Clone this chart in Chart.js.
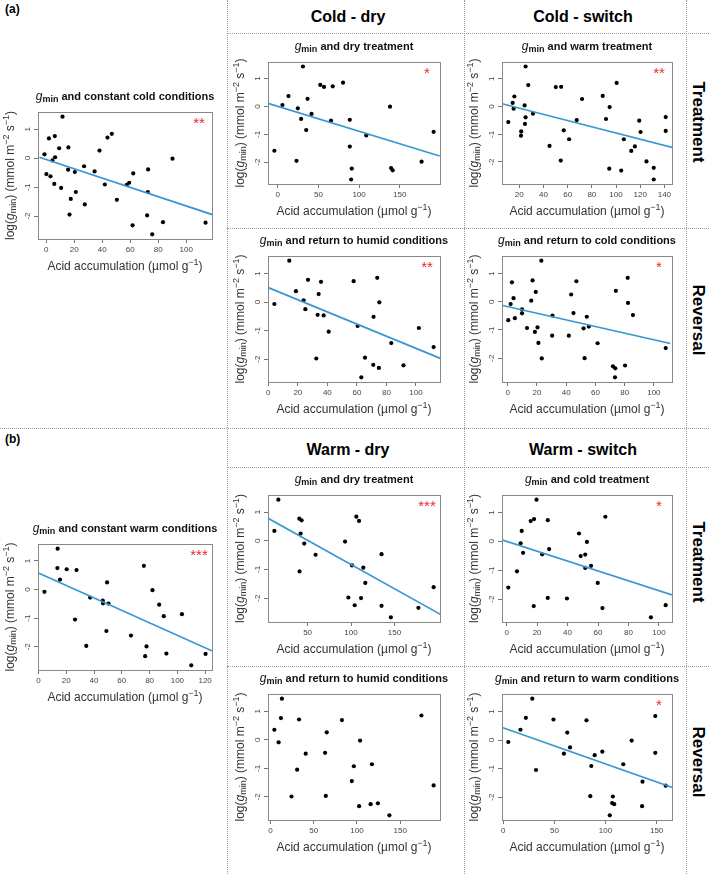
<!DOCTYPE html>
<html>
<head>
<meta charset="utf-8">
<script src="https://cdn.jsdelivr.net/npm/chart.js@4.4.1/dist/chart.umd.min.js"></script>
<style>
  body { margin: 0; background: #fff; font-family: "Liberation Sans", Arial, sans-serif; }
  #page { position: relative; width: 709px; height: 874px; overflow: hidden; }
  .vl { position: absolute; width: 0; border-left: 1px dotted #999; }
  .hl { position: absolute; height: 0; border-top: 1px dotted #999; }
  .hd { position: absolute; font-weight: bold; font-size: 16px; transform: translate(-50%, -50%); white-space: nowrap; }
  .tag { position: absolute; font-weight: bold; font-size: 12px; }
  .side { position: absolute; font-weight: bold; font-size: 17px; transform: translate(-50%, -50%) rotate(90deg); white-space: nowrap; }
  canvas { position: absolute; }
</style>
</head>
<body>
<div id="page">
  <div class="vl" style="left:227px;top:0;height:874px"></div>
  <div class="vl" style="left:464px;top:0;height:874px"></div>
  <div class="vl" style="left:686px;top:0;height:874px"></div>
  <div class="hl" style="left:227px;top:33px;width:482px"></div>
  <div class="hl" style="left:227px;top:228px;width:482px"></div>
  <div class="hl" style="left:0;top:428px;width:709px"></div>
  <div class="hl" style="left:227px;top:467px;width:482px"></div>
  <div class="hl" style="left:227px;top:666px;width:482px"></div>

  <div class="tag" style="left:5px;top:2px">(a)</div>
  <div class="tag" style="left:5px;top:432px">(b)</div>
  <div class="hd" style="left:348px;top:17px">Cold - dry</div>
  <div class="hd" style="left:583px;top:17px">Cold - switch</div>
  <div class="hd" style="left:348px;top:450px">Warm - dry</div>
  <div class="hd" style="left:583px;top:450px">Warm - switch</div>
  <div class="side" style="left:698px;top:122px">Treatment</div>
  <div class="side" style="left:698px;top:320px">Reversal</div>
  <div class="side" style="left:698px;top:562px">Treatment</div>
  <div class="side" style="left:698px;top:762px">Reversal</div>
</div>
<script>
// ---- data (acid accumulation, log gmin) ----
const yTicks = [-2, -1, 0, 1];

const coldConstX = [-1.2, 2.0, 6.2, 11.7, 9.3, 15.9, 6.4, 4.5, 0.2, 3.1, 5.8, 10.7, 15.7, 20.5, 17.6, 21.2, 16.7, 27.6, 27.1, 34.6, 38.1, 43.8, 46.9, 41.9, 50.5, 57.6, 59.3, 62.2, 61.7, 72.8, 72.6, 72.1, 75.7, 83.4, 90.2, 113.8];
const coldConstY = [0.13, 0.68, 0.76, 1.43, 0.34, 0.37, 0.03, -0.08, -0.55, -0.63, -0.89, -1.03, -0.40, -0.48, -1.41, -1.17, -1.95, -1.60, -0.28, -0.46, 0.26, 0.71, 0.84, -0.91, -1.44, -0.92, -0.85, -0.53, -2.32, -0.39, -1.17, -1.98, -2.63, -2.21, -0.02, -2.23];
const coldConstTicks = [0, 20, 40, 60, 80, 100];
const coldConstFitX = [-4.8, 118.6], coldConstFitY = [0.03, -1.95];

const coldDryTreatX = [-4.1, 5.8, 13.2, 24.7, 23.1, 31.0, 36.7, 28.8, 35.0, 41.6, 52.3, 56.9, 67.6, 65.5, 80.3, 88.6, 88.6, 91.0, 90.2, 108.8, 138.0, 139.3, 141.3, 176.8, 191.6];
const coldDryTreatY = [-1.59, 0.05, 0.37, -0.07, -1.95, 1.43, 0.27, -0.45, -0.85, -0.27, 0.77, 0.70, 0.72, -0.51, 0.85, -0.48, -1.44, -2.23, -2.62, -1.04, -0.01, -2.21, -2.29, -1.98, -0.91];
const coldDryTreatTicks = [0, 50, 100, 150];
const coldDryTreatFitX = [-11.9, 199], coldDryTreatFitY = [0.11, -1.78];

const coldSwitchTreatX = [10.9, 14.5, 15.9, 15.3, 25.2, 27.4, 24.4, 25.2, 24.7, 21.6, 21.4, 31.3, 45.0, 50.2, 54.6, 54.3, 56.8, 61.2, 67.5, 71.9, 89.0, 91.7, 94.7, 94.4, 100.5, 104.3, 106.5, 112.6, 115.6, 119.2, 120.3, 125.2, 131.2, 131.2, 141.1, 141.1];
const coldSwitchTreatY = [-0.56, 0.13, 0.36, -0.08, 1.44, 0.77, 0.04, -0.39, -0.63, -0.90, -1.05, -0.26, -1.42, 0.70, 0.71, -1.95, -0.86, -1.18, -0.49, 0.27, 0.38, -0.45, -0.02, -2.24, 0.85, -2.31, -1.18, -1.60, -1.44, -0.51, -0.92, -1.98, -2.21, -2.63, -0.38, -0.88];
const coldSwitchTreatTicks = [20, 40, 60, 80, 100, 120, 140];
const coldSwitchTreatFitX = [5.7, 146.6], coldSwitchTreatFitY = [0.10, -1.48];

const coldDryRevX = [4.1, 14.2, 18.7, 26.9, 23.9, 25.1, 35.7, 34.1, 33.4, 37.5, 40.9, 32.5, 57.8, 60.5, 65.5, 63.0, 73.8, 75.2, 71.3, 71.1, 74.9, 83.3, 91.6, 102.0, 112.0];
const coldDryRevY = [-0.07, 1.45, 0.38, 0.78, 0.06, -0.25, 0.71, 0.28, -0.45, -0.47, -1.04, -1.98, 0.73, -0.84, -1.95, -2.64, 0.85, -0.01, -0.52, -2.20, -2.31, -1.44, -2.22, -0.91, -1.58];
const coldDryRevTicks = [0, 20, 40, 60, 80, 100];
const coldDryRevFitX = [-0.7, 116.7], coldDryRevFitY = [0.52, -1.98];

const coldSwitchRevX = [0.4, 2.0, 2.9, 4.0, 4.9, 9.8, 9.8, 13.2, 16.1, 17.0, 19.2, 18.6, 20.4, 21.0, 23.3, 23.0, 30.6, 30.4, 41.8, 43.4, 45.0, 47.0, 51.9, 52.6, 54.1, 55.5, 61.5, 72.0, 73.6, 73.4, 74.0, 80.3, 82.1, 82.3, 85.7, 108.1];
const coldSwitchRevY = [-0.65, -0.08, 0.69, 0.13, -0.58, -0.27, -0.41, -0.93, 0.04, 0.76, 0.35, -1.07, -0.91, -1.46, -2.01, 1.46, -0.49, -1.20, -1.20, 0.26, -0.40, 0.73, -0.94, -2.00, -0.53, -0.88, -1.47, -2.29, -2.36, -2.68, 0.39, -2.26, 0.85, -0.04, -0.47, -1.64];
const coldSwitchRevTicks = [0, 20, 40, 60, 80, 100];
const coldSwitchRevFitX = [-3.4, 111.2], coldSwitchRevFitY = [-0.13, -1.48];

const warmConstX = [4.3, 13.8, 13.6, 15.5, 20.3, 27.4, 26.3, 34.4, 37.2, 46.3, 46.5, 49.4, 50.4, 48.9, 66.6, 75.9, 76.8, 77.8, 82.1, 86.9, 90.2, 92.1, 103.3, 110.0, 120.3];
const warmConstY = [-0.08, 1.43, 0.75, 0.35, 0.71, 0.68, -1.05, -1.97, -0.28, -0.39, -0.48, 0.25, -0.49, -1.45, -1.61, 0.83, -2.33, -1.99, -0.02, -0.53, -0.93, -2.24, -0.86, -2.65, -2.25];
const warmConstTicks = [0, 20, 40, 60, 80, 100, 120];
const warmConstFitX = [0, 124.8], warmConstFitY = [0.58, -2.14];

const warmDryTreatX = [16.4, 11.8, 40.5, 43.1, 42.0, 46.2, 59.2, 40.8, 93.1, 101.1, 106.1, 109.2, 114.1, 116.4, 96.9, 104.2, 111.5, 135.1, 135.1, 145.8, 177.5, 195.0];
const warmDryTreatY = [1.43, 0.34, 0.77, 0.71, 0.25, -0.10, -0.49, -1.07, -0.03, -0.86, 0.84, 0.69, -0.94, -1.47, -1.98, -2.25, -2.00, -0.47, -2.27, -2.67, -2.34, -1.62];
const warmDryTreatTicks = [50, 100, 150];
const warmDryTreatFitX = [4.6, 203], warmDryTreatFitY = [0.78, -2.57];

const warmSwitchTreatX = [1.1, 6.8, 9.2, 9.9, 10.8, 15.8, 18.0, 19.6, 17.8, 23.3, 27.0, 27.9, 27.0, 39.6, 47.5, 48.6, 51.6, 52.7, 51.6, 55.4, 59.8, 62.9, 64.8, 94.7, 104.4];
const warmSwitchTreatY = [-1.60, -1.04, -0.07, 0.36, -0.40, 0.70, 0.77, 1.44, -2.24, -0.45, 0.73, -0.27, -1.96, -1.98, 0.27, -0.51, -0.46, -0.02, -0.92, -0.85, -1.44, -2.31, 0.85, -2.63, -2.21];
const warmSwitchTreatTicks = [0, 20, 40, 60, 80, 100];
const warmSwitchTreatFitX = [-3.1, 108.6], warmSwitchTreatFitY = [0.05, -1.86];

const warmDryRevX = [4.6, 9.5, 12.2, 13.3, 24.4, 30.9, 33.1, 40.8, 63.2, 65.1, 64.0, 82.7, 94.1, 96.4, 102.5, 103.6, 115.8, 117.3, 124.2, 137.5, 174.5, 188.6];
const warmDryRevY = [0.35, -0.09, 0.76, 1.44, -1.99, -1.05, 0.71, -0.49, -0.46, 0.26, -1.97, 0.69, -1.45, -0.93, -2.33, -0.03, -2.26, -0.86, -2.23, -2.65, 0.85, -1.60];
const warmDryRevTicks = [0, 50, 100, 150];

const warmSwitchRevX = [4.9, 16.8, 22.1, 28.4, 32.0, 49.1, 59.3, 62.6, 65.3, 81.4, 85.1, 86.1, 89.4, 96.9, 104.2, 106.5, 108.5, 107.2, 117.4, 125.6, 136.2, 135.8, 148.7, 148.7, 158.9];
const warmSwitchRevY = [-0.07, 0.36, 0.78, 1.45, -1.05, 0.72, -0.48, 0.26, -0.26, 0.69, -1.97, -0.91, -0.53, -0.41, -2.64, -2.21, -2.25, -1.98, -0.85, -0.02, -1.46, -2.32, -0.45, 0.84, -1.60];
const warmSwitchRevTicks = [0, 50, 100, 150];
const warmSwitchRevFitX = [-1.0, 165.8], warmSwitchRevFitY = [0.44, -1.67];

// ---- drawing ----
const FF = '"Liberation Sans", Arial, sans-serif';
const page = document.getElementById('page');

function richText(ctx, parts, x, y, rot) {
  ctx.save();
  ctx.translate(x, y);
  if (rot) ctx.rotate(rot);
  ctx.textBaseline = 'middle';
  ctx.textAlign = 'left';
  let w = 0;
  parts.forEach(p => { ctx.font = p[1]; w += ctx.measureText(p[0]).width; });
  let cx = -w / 2;
  parts.forEach(p => {
    ctx.font = p[1];
    ctx.fillText(p[0], cx, p[2] || 0);
    cx += ctx.measureText(p[0]).width;
  });
  ctx.restore();
}

const panelPlugin = {
  id: 'panel',
  afterDatasetsDraw(chart, args, opts) {
    const ctx = chart.ctx, a = chart.chartArea;
    ctx.save();
    ctx.strokeStyle = '#888';
    ctx.lineWidth = 1;
    ctx.strokeRect(Math.round(a.left) + 0.5, Math.round(a.top) + 0.5, Math.round(a.right - a.left), Math.round(a.bottom - a.top));
    ctx.fillStyle = '#111';
    const mid = (a.left + a.right) / 2;
    richText(ctx, [['g', 'italic 12px ' + FF], ['min', 'bold 9px ' + FF, 3], [' ' + opts.title, 'bold 11px ' + FF]], mid, a.top - 15);
    ctx.fillStyle = '#333';
    richText(ctx, [['Acid accumulation (µmol g', '12px ' + FF], ['−1', '9px ' + FF, -4], [')', '12px ' + FF]], mid, a.bottom + 28);
    richText(ctx, [['log(', '12px ' + FF], ['g', 'italic 12px ' + FF], ['min', '9px ' + FF, 3], [') (mmol m', '12px ' + FF],
                   ['−2', '9px ' + FF, -4], [' s', '12px ' + FF], ['−1', '9px ' + FF, -4], [')', '12px ' + FF]],
             a.left - 27, (a.top + a.bottom) / 2, -Math.PI / 2);
    if (opts.stars) {
      ctx.fillStyle = '#e8292b';
      ctx.font = '15px ' + FF;
      ctx.textAlign = 'center';
      ctx.textBaseline = 'top';
      ctx.fillText(opts.stars, a.right - 13, a.top + 4);
    }
    ctx.restore();
  }
};

function padRange(v) {
  const lo = Math.min(...v), hi = Math.max(...v), d = hi - lo;
  return [lo - 0.04 * d, hi + 0.04 * d];
}

function makePanel(box, xs, ys, ticks, fitX, fitY, title, stars) {
  const pl = 48, pt = 34, pr = 14, pb = 48;
  const cv = document.createElement('canvas');
  cv.width = box[2] - box[0] + pl + pr;
  cv.height = box[3] - box[1] + pt + pb;
  cv.style.left = (box[0] - pl) + 'px';
  cv.style.top = (box[1] - pt) + 'px';
  page.appendChild(cv);
  const xr = padRange(xs), yr = padRange(ys);
  const datasets = [];
  if (fitX) {
    datasets.push({
      data: fitX.map((x, i) => ({ x: x, y: fitY[i] })),
      showLine: true, borderColor: '#3797d3', borderWidth: 1.7, pointRadius: 0
    });
  }
  datasets.push({
    data: xs.map((x, i) => ({ x: x, y: ys[i] })),
    pointRadius: 2.1, pointBackgroundColor: '#000', pointBorderWidth: 0
  });
  new Chart(cv, {
    type: 'scatter',
    data: { datasets: datasets },
    options: {
      responsive: false,
      animation: false,
      layout: { padding: { top: pt, right: pr, left: 0, bottom: 0 } },
      plugins: { legend: { display: false }, tooltip: { enabled: false }, panel: { title: title, stars: stars } },
      scales: {
        x: {
          min: xr[0], max: xr[1],
          afterBuildTicks: s => { s.ticks = ticks.map(v => ({ value: v })); },
          afterFit: s => { s.height = pb; },
          grid: { drawOnChartArea: false, drawTicks: true, tickLength: 4, tickColor: '#777' },
          border: { display: false },
          ticks: { font: { size: 8, family: FF }, color: '#444', padding: 2, maxRotation: 0, autoSkip: false }
        },
        y: {
          min: yr[0], max: yr[1],
          afterBuildTicks: s => { s.ticks = yTicks.map(v => ({ value: v })); },
          afterFit: s => { s.width = pl; },
          grid: { drawOnChartArea: false, drawTicks: true, tickLength: 4, tickColor: '#777' },
          border: { display: false },
          ticks: { font: { size: 8, family: FF }, color: '#444', padding: 3, minRotation: 90, maxRotation: 90, crossAlign: 'center', autoSkip: false }
        }
      }
    },
    plugins: [panelPlugin]
  });
}

makePanel([38, 112, 212, 239], coldConstX, coldConstY, coldConstTicks, coldConstFitX, coldConstFitY, 'and constant cold conditions', '**');
makePanel([268, 62, 440, 184], coldDryTreatX, coldDryTreatY, coldDryTreatTicks, coldDryTreatFitX, coldDryTreatFitY, 'and dry treatment', '*');
makePanel([502, 62, 672, 184], coldSwitchTreatX, coldSwitchTreatY, coldSwitchTreatTicks, coldSwitchTreatFitX, coldSwitchTreatFitY, 'and warm treatment', '**');
makePanel([268, 256, 440, 382], coldDryRevX, coldDryRevY, coldDryRevTicks, coldDryRevFitX, coldDryRevFitY, 'and return to humid conditions', '**');
makePanel([502, 256, 672, 382], coldSwitchRevX, coldSwitchRevY, coldSwitchRevTicks, coldSwitchRevFitX, coldSwitchRevFitY, 'and return to cold conditions', '*');
makePanel([38, 544, 212, 670], warmConstX, warmConstY, warmConstTicks, warmConstFitX, warmConstFitY, 'and constant warm conditions', '***');
makePanel([268, 495, 440, 622], warmDryTreatX, warmDryTreatY, warmDryTreatTicks, warmDryTreatFitX, warmDryTreatFitY, 'and dry treatment', '***');
makePanel([502, 495, 672, 622], warmSwitchTreatX, warmSwitchTreatY, warmSwitchTreatTicks, warmSwitchTreatFitX, warmSwitchTreatFitY, 'and cold treatment', '*');
makePanel([268, 694, 440, 820], warmDryRevX, warmDryRevY, warmDryRevTicks, null, null, 'and return to humid conditions', '');
makePanel([502, 694, 672, 820], warmSwitchRevX, warmSwitchRevY, warmSwitchRevTicks, warmSwitchRevFitX, warmSwitchRevFitY, 'and return to warm conditions', '*');
</script>
</body>
</html>
